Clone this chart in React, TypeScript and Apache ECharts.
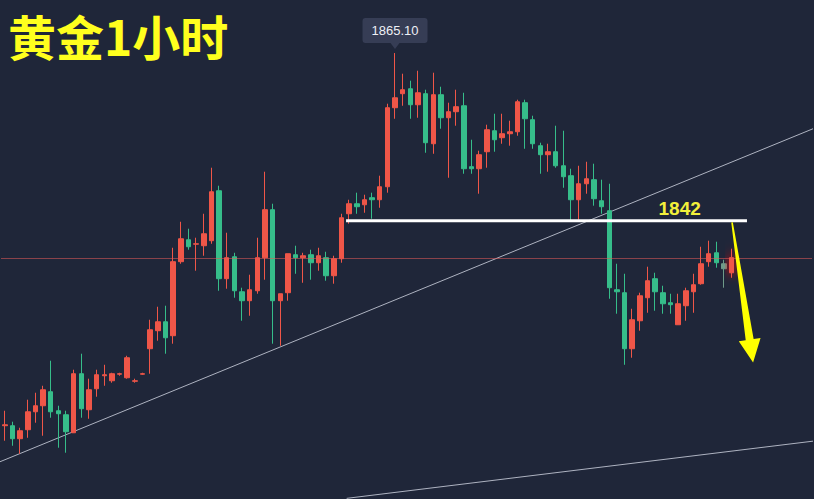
import React, { useEffect, useRef } from 'react';
import * as echarts from 'echarts';

// Gold, 1-hour candles (price units, USD)
const opens = [
  1813.79, 1813.79, 1812.0, 1813.24, 1815.71, 1816.54, 1818.47, 1815.85, 1815.3, 1812.82,
  1820.95, 1815.99, 1818.88, 1820.67, 1819.98, 1820.88, 1820.39, 1819.91, 1820.88, 1824.39,
  1826.87, 1828.1, 1826.18, 1836.37, 1839.39, 1838.78, 1838.57, 1839.26, 1846.14, 1834.03,
  1837.05, 1832.23, 1831.0, 1832.37, 1836.92, 1843.53, 1831.0, 1832.1, 1837.33, 1836.92,
  1837.33, 1836.23, 1836.92, 1834.44, 1836.78, 1842.97, 1844.35, 1844.21, 1845.18, 1844.9,
  1846.69, 1857.57, 1859.5, 1860.18, 1857.98, 1859.5, 1852.61, 1859.36, 1856.19, 1857.02,
  1857.84, 1849.45, 1849.17, 1851.51, 1854.4, 1853.44, 1853.99, 1854.26, 1858.26, 1855.92,
  1852.34, 1851.1, 1851.51, 1849.58, 1848.21, 1844.9, 1847.1, 1847.66, 1844.76, 1843.39,
  1832.51, 1832.1, 1824.39, 1828.24, 1831.41, 1834.03, 1832.1, 1830.72, 1827.69, 1830.31,
  1832.23, 1833.34, 1836.37, 1837.6, 1836.09, 1834.85,
];
const closes = [
  1813.92, 1812.0, 1813.1, 1815.71, 1816.54, 1818.74, 1815.71, 1815.44, 1812.96, 1820.95,
  1816.13, 1818.74, 1820.81, 1820.81, 1820.95, 1820.95, 1823.15, 1819.98, 1820.95, 1827.0,
  1828.1, 1825.9, 1836.37, 1839.53, 1838.43, 1838.84, 1840.22, 1846.0, 1834.03, 1836.92,
  1832.37, 1831.0, 1832.51, 1836.92, 1843.53, 1831.0, 1831.96, 1837.47, 1836.92, 1837.19,
  1836.23, 1837.19, 1834.44, 1836.78, 1842.42, 1844.35, 1843.94, 1844.9, 1844.9, 1846.69,
  1857.57, 1858.94, 1860.05, 1857.98, 1859.63, 1852.75, 1859.36, 1856.19, 1857.02, 1857.71,
  1849.17, 1849.17, 1851.1, 1854.54, 1853.16, 1853.99, 1854.26, 1858.39, 1856.05, 1852.61,
  1851.1, 1851.51, 1849.58, 1848.07, 1844.9, 1847.1, 1847.79, 1845.04, 1843.94, 1832.79,
  1832.23, 1824.39, 1828.38, 1831.68, 1833.75, 1832.23, 1830.58, 1830.45, 1830.58, 1832.37,
  1833.2, 1836.09, 1837.47, 1836.23, 1835.4, 1836.92,
];
const lows = [
  1811.72, 1811.03, 1809.93, 1812.13, 1814.2, 1812.41, 1814.89, 1810.76, 1810.07, 1812.82,
  1814.89, 1814.75, 1817.78, 1819.29, 1819.71, 1820.67, 1820.26, 1819.71, 1820.81, 1820.95,
  1825.49, 1823.7, 1825.08, 1836.09, 1838.02, 1835.13, 1837.19, 1838.84, 1832.37, 1832.65,
  1831.41, 1828.24, 1828.93, 1831.96, 1833.89, 1825.08, 1824.8, 1831.0, 1834.71, 1833.47,
  1833.89, 1835.13, 1833.75, 1833.34, 1836.23, 1841.6, 1842.97, 1843.11, 1842.29, 1843.8,
  1845.87, 1856.05, 1857.84, 1856.05, 1856.19, 1851.37, 1851.23, 1854.68, 1847.93, 1855.09,
  1848.48, 1848.48, 1845.73, 1849.31, 1851.51, 1852.61, 1852.34, 1853.71, 1851.92, 1851.92,
  1848.48, 1848.76, 1849.31, 1846.55, 1842.01, 1842.15, 1845.73, 1844.08, 1842.97, 1831.27,
  1829.21, 1822.18, 1823.15, 1826.87, 1829.34, 1829.62, 1829.21, 1829.21, 1827.69, 1828.24,
  1829.34, 1833.2, 1835.68, 1835.54, 1832.79, 1834.16,
];
const highs = [
  1815.85, 1814.34, 1813.51, 1817.37, 1818.33, 1819.29, 1822.74, 1816.54, 1815.85, 1821.5,
  1823.7, 1820.26, 1821.5, 1822.18, 1821.08, 1821.08, 1823.42, 1820.26, 1821.08, 1828.38,
  1830.17, 1830.31, 1838.29, 1841.87, 1840.91, 1839.67, 1842.97, 1849.31, 1846.83, 1840.36,
  1837.6, 1832.79, 1834.58, 1839.67, 1848.76, 1844.35, 1831.96, 1837.47, 1838.57, 1837.6,
  1838.02, 1838.29, 1837.74, 1837.19, 1842.97, 1844.9, 1845.87, 1845.59, 1845.87, 1848.21,
  1858.12, 1865.1, 1862.25, 1861.29, 1862.66, 1860.05, 1862.39, 1860.46, 1858.26, 1860.05,
  1859.63, 1853.16, 1851.65, 1855.23, 1856.74, 1856.74, 1855.78, 1858.67, 1858.67, 1856.47,
  1852.75, 1852.61, 1855.09, 1854.4, 1849.17, 1849.58, 1850.13, 1849.86, 1847.66, 1847.1,
  1836.09, 1834.71, 1829.89, 1832.1, 1835.68, 1834.85, 1833.06, 1831.96, 1831.96, 1832.79,
  1834.71, 1838.43, 1839.26, 1839.12, 1836.64, 1838.16,
];

const emptySlots = 10;
const categories = Array.from({ length: opens.length + emptySlots }, (_, i) => `${i + 1}`);

// annotations in (bar index, price)
const supportLine = [[-0.63, 1808.83], [105.76, 1854.73]];
const lowerLine = [[44.68, 1803.79], [105.76, 1811.68]];
const resistance = 1842;
const resistanceSpan = [44.6, 97.0];
const resistanceLabelAt = 88.2;
const peakIndex = 51;
const peakPrice = 1865.1;
const currentPrice = 1836.8;
const arrowStart = [95.05, 1841.8];
const arrowTip = [97.8, 1822.5];
const title = '黄金1小时';

const RED = '#ef5648';
const GREEN = '#36bd8a';
const BG = '#1f2639';

export default function App() {
  const ref = useRef<HTMLDivElement>(null);

  useEffect(() => {
    if (!ref.current) return;
    const chart = echarts.init(ref.current, undefined, { renderer: 'svg' });
    const last = opens.length - 1;
    const candleData = opens.map((o, i) => {
      const v = [o, closes[i], lows[i], highs[i]];
      if (i === last) {
        return { value: v, itemStyle: { shadowBlur: 10, shadowColor: '#ff1010' } };
      }
      if (i === last - 1) {
        return { value: v, itemStyle: { color0: '#6f9a89', borderColor0: '#6f9a89' } };
      }
      return v;
    });

    chart.setOption({
      animation: false,
      backgroundColor: BG,
      grid: { left: 1, right: 2, top: 0, bottom: 0 },
      xAxis: [
        { type: 'category', data: categories, show: false },
        { type: 'value', min: -0.5, max: categories.length - 0.5, show: false },
      ],
      yAxis: { type: 'value', min: 1803.7, max: 1872.4, show: false, splitLine: { show: false } },
      series: [
        {
          type: 'line',
          xAxisIndex: 1,
          data: supportLine,
          symbol: 'none',
          silent: true,
          z: 1,
          lineStyle: { color: '#aeb3c1', width: 1 },
        },
        {
          type: 'line',
          xAxisIndex: 1,
          data: lowerLine,
          symbol: 'none',
          silent: true,
          z: 1,
          lineStyle: { color: '#aeb3c1', width: 1 },
        },
        {
          type: 'candlestick',
          xAxisIndex: 0,
          barWidth: 5,
          z: 2,
          data: candleData,
          itemStyle: {
            color: RED,
            color0: GREEN,
            borderColor: RED,
            borderColor0: GREEN,
            borderWidth: 1,
          },
          markLine: {
            silent: true,
            symbol: 'none',
            label: { show: false },
            lineStyle: { color: 'rgba(225,90,90,0.55)', width: 1, type: 'solid' },
            data: [{ yAxis: currentPrice }],
          },
          markPoint: {
            silent: true,
            symbol: 'triangle',
            symbolRotate: 180,
            symbolSize: [9, 6],
            symbolOffset: [0, -7],
            itemStyle: { color: '#363d55' },
            label: {
              show: true,
              position: 'top',
              distance: 0,
              formatter: peakPrice.toFixed(2),
              backgroundColor: '#363d55',
              color: '#eef0f5',
              fontSize: 13,
              fontFamily: 'Liberation Sans, Arial, sans-serif',
              padding: [6, 9],
              borderRadius: 3,
            },
            data: [{ coord: [peakIndex, peakPrice] }],
          },
        },
        {
          type: 'line',
          xAxisIndex: 1,
          data: [
            [resistanceSpan[0], resistance],
            [resistanceSpan[1], resistance],
          ],
          symbol: 'none',
          silent: true,
          z: 3,
          lineStyle: { color: '#ffffff', width: 3 },
        },
      ],
    });

    const px = (p: number[]) => chart.convertToPixel({ xAxisIndex: 1, yAxisIndex: 0 }, p) as number[];
    const lbl = px([resistanceLabelAt, resistance]);
    const s = px(arrowStart);
    const t = px(arrowTip);
    const dx = t[0] - s[0];
    const dy = t[1] - s[1];
    const L = Math.hypot(dx, dy);
    const ux = dx / L, uy = dy / L;
    const nx = -uy, ny = ux;
    const headLen = 23;
    const bx = t[0] - ux * headLen, by = t[1] - uy * headLen;
    const pt = (x: number, y: number, w: number) => [x + nx * w, y + ny * w];
    const arrow = [
      pt(s[0], s[1], -0.8),
      pt(bx, by, -4),
      pt(bx, by, -11),
      [t[0], t[1]],
      pt(bx, by, 11),
      pt(bx, by, 4),
      pt(s[0], s[1], 0.8),
    ];

    chart.setOption({
      graphic: [
        {
          type: 'text',
          x: 8,
          y: 35,
          style: {
            text: title,
            fill: '#ffff1e',
            fontSize: 48,
            fontWeight: 'bold',
            fontFamily: 'Noto Sans CJK SC',
            verticalAlign: 'middle',
            align: 'left',
          },
        },
        {
          type: 'text',
          x: lbl[0],
          y: lbl[1] - 12,
          style: {
            text: String(resistance),
            fill: '#f2f03a',
            fontSize: 19,
            fontWeight: 'bold',
            fontFamily: 'Liberation Sans, Arial, sans-serif',
            align: 'center',
            verticalAlign: 'middle',
          },
        },
        {
          type: 'polygon',
          shape: { points: arrow },
          style: { fill: '#ffff00' },
          z: 10,
        },
      ],
    });

    return () => chart.dispose();
  }, []);

  return (
    <div
      ref={ref}
      style={{ position: 'fixed', left: 0, top: 0, width: 814, height: 499, background: BG }}
    />
  );
}
